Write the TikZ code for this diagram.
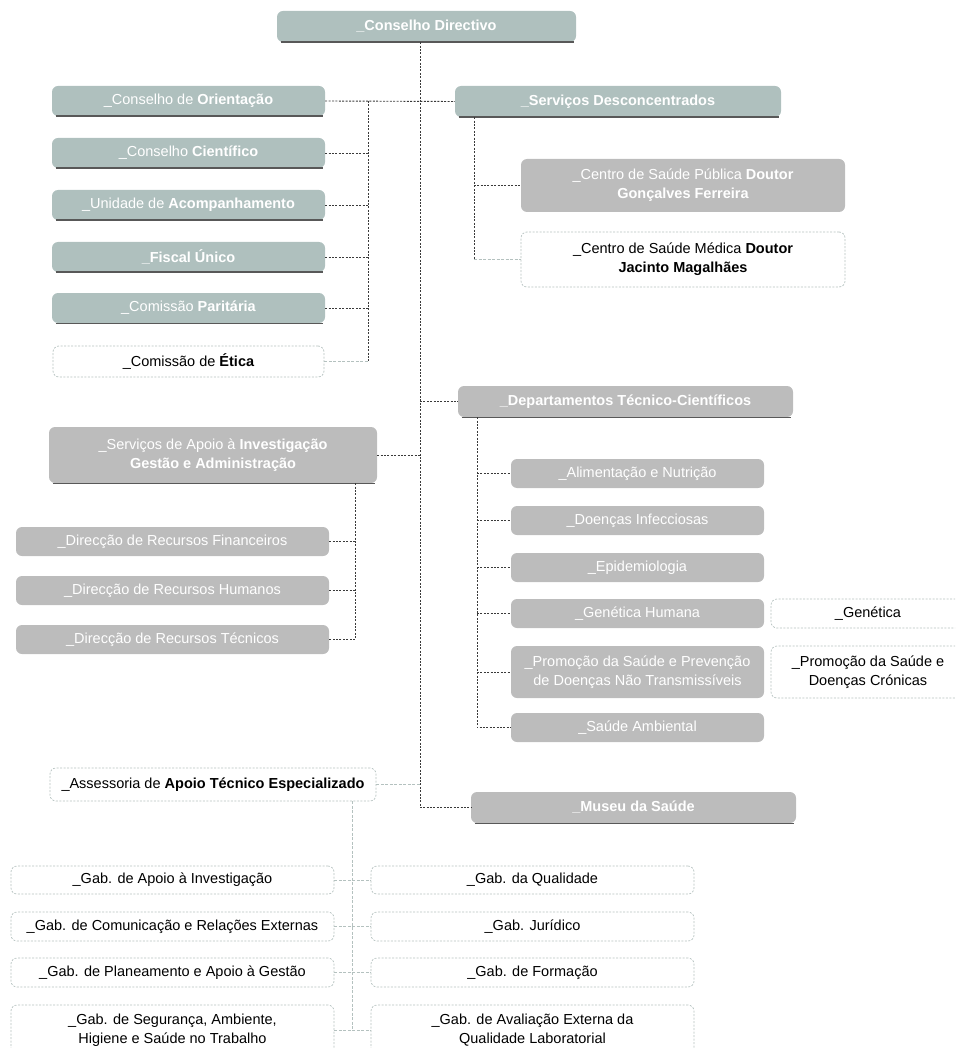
\documentclass[tikz,border=0pt]{standalone}
\usepackage{fontspec}
\setmainfont{Liberation Sans}
\definecolor{boxTeal}{HTML}{AFC0BE}
\definecolor{boxGrey}{HTML}{BCBCBC}
\definecolor{lineDark}{HTML}{3A3A3A}
\definecolor{lineFaint}{HTML}{B4C1BF}
\tikzstyle{tealBox}=[shape = rectangle, rounded corners = 6pt, fill = boxTeal, text = white, minimum height = 31pt, inner sep = 0pt, align = center]
\tikzstyle{greyBox}=[shape = rectangle, rounded corners = 6pt, fill = boxGrey, text = white, minimum height = 30pt, inner sep = 0pt, align = center]
\tikzstyle{openBox}=[shape = rectangle, rounded corners = 6pt, draw = lineFaint, dash pattern = on 2pt off 1.5pt, line width = 0.7pt, text = black, minimum height = 30pt, inner sep = 0pt, align = center]
\tikzstyle{darkLink}=[draw = lineDark, dash pattern = on 2pt off 1.4pt, line width = 0.9pt]
\tikzstyle{faintLink}=[draw = lineFaint, dash pattern = on 3pt off 1.5pt, line width = 0.8pt]
\tikzstyle{ledgeLine}=[draw = lineDark!85, line width = 1.4pt]

\begin{document}
\begin{tikzpicture}[x = 1pt, y = -1pt, font = \fontsize{14.5}{19}\selectfont]
\useasboundingbox (0,0) rectangle (955,1048);
\clip (0,0) rectangle (955,1048);
\coordinate (trunk) at (420,0);
\coordinate (leftBus) at (368,0);
\coordinate (descBus) at (474,0);
\coordinate (deptBus) at (477,0);
\coordinate (apoioBus) at (355,0);
\coordinate (gabBus) at (352,0);

\node[tealBox, minimum width = 299pt] (cd) at (426.5,26.5) {\textbf{\_Conselho Directivo}};

\node[tealBox, minimum width = 273pt, minimum height = 30pt] (co) at (188.5,101) {\_Conselho de \textbf{Orientação}};
\node[tealBox, minimum width = 273pt, minimum height = 30pt] (cc) at (188.5,153) {\_Conselho \textbf{Científico}};
\node[tealBox, minimum width = 273pt, minimum height = 30pt] (ua) at (188.5,205) {\_Unidade de \textbf{Acompanhamento}};
\node[tealBox, minimum width = 273pt, minimum height = 30pt] (fu) at (188.5,257) {\textbf{\_Fiscal Único}};
\node[tealBox, minimum width = 273pt, minimum height = 30pt] (cp) at (188.5,308) {\_Comissão \textbf{Paritária}};
\node[openBox, minimum width = 271pt, minimum height = 31pt] (ce) at (188.5,361.5) {\_Comissão de \textbf{Ética}};

\node[tealBox, minimum width = 326pt] (sd) at (618,101.5) {\textbf{\_Serviços Desconcentrados}};
\node[greyBox, minimum width = 324pt, minimum height = 53pt] (cg) at (683,185.5) {\_Centro de Saúde Pública \textbf{Doutor}\\\textbf{Gonçalves Ferreira}};
\node[openBox, minimum width = 324pt, minimum height = 55pt] (cj) at (683,259.5) {\_Centro de Saúde Médica \textbf{Doutor}\\\textbf{Jacinto Magalhães}};

\node[greyBox, minimum width = 328pt, minimum height = 56pt] (sa) at (213,455) {\_Serviços de Apoio à \textbf{Investigação}\\\textbf{Gestão e Administração}};
\node[greyBox, minimum width = 313pt, minimum height = 29pt] (rf) at (172.5,541.5) {\_Direcção de Recursos Financeiros};
\node[greyBox, minimum width = 313pt, minimum height = 29pt] (rh) at (172.5,590.5) {\_Direcção de Recursos Humanos};
\node[greyBox, minimum width = 313pt, minimum height = 29pt] (rt) at (172.5,639.5) {\_Direcção de Recursos Técnicos};

\node[greyBox, minimum width = 335pt, minimum height = 31pt] (dt) at (625.5,401.5) {\textbf{\_Departamentos Técnico-Científicos}};
\node[greyBox, minimum width = 253pt, minimum height = 29pt] (al) at (637.5,473.5) {\_Alimentação e Nutrição};
\node[greyBox, minimum width = 253pt, minimum height = 29pt] (di) at (637.5,520.5) {\_Doenças Infecciosas};
\node[greyBox, minimum width = 253pt, minimum height = 29pt] (ep) at (637.5,567.5) {\_Epidemiologia};
\node[greyBox, minimum width = 253pt, minimum height = 29pt] (gh) at (637.5,613.5) {\_Genética Humana};
\node[greyBox, minimum width = 253pt, minimum height = 52pt] (pv) at (637.5,672) {\_Promoção da Saúde e Prevenção\\de Doenças Não Transmissíveis};
\node[greyBox, minimum width = 253pt, minimum height = 29pt] (am) at (637.5,727.5) {\_Saúde Ambiental};
\node[openBox, minimum width = 194pt, minimum height = 29pt] (ge) at (868,613.5) {\_Genética};
\node[openBox, minimum width = 194pt, minimum height = 52pt] (pc) at (868,672) {\_Promoção da Saúde e\\Doenças Crónicas};

\node[openBox, minimum width = 326pt, minimum height = 33pt] (as) at (213,784.5) {\_Assessoria de \textbf{Apoio Técnico Especializado}};
\node[greyBox, minimum width = 325pt, minimum height = 31pt] (ms) at (633.5,807.5) {\textbf{\_Museu da Saúde}};

\node[openBox, minimum width = 323pt, minimum height = 28pt] (ga) at (172.5,880) {\_Gab. de Apoio à Investigação};
\node[openBox, minimum width = 323pt, minimum height = 29pt] (gc) at (172.5,926.5) {\_Gab. de Comunicação e Relações Externas};
\node[openBox, minimum width = 323pt, minimum height = 29pt] (gp) at (172.5,972.5) {\_Gab. de Planeamento e Apoio à Gestão};
\node[openBox, minimum width = 323pt, minimum height = 50pt] (gs) at (172.5,1030) {\_Gab. de Segurança, Ambiente,\\Higiene e Saúde no Trabalho};
\node[openBox, minimum width = 323pt, minimum height = 28pt] (gq) at (532.5,880) {\_Gab. da Qualidade};
\node[openBox, minimum width = 323pt, minimum height = 29pt] (gj) at (532.5,926.5) {\_Gab. Jurídico};
\node[openBox, minimum width = 323pt, minimum height = 29pt] (gf) at (532.5,972.5) {\_Gab. de Formação};
\node[openBox, minimum width = 323pt, minimum height = 50pt] (ae) at (532.5,1030) {\_Gab. de Avaliação Externa da\\Qualidade Laboratorial};

\foreach \n in {cd,co,cc,ua,fu,cp,sd,sa,dt,ms}
  \draw[ledgeLine] ([xshift=4pt]\n.south west) -- ([xshift=-2pt]\n.south east);

\draw[darkLink] (cd.south -| trunk) |- (ms.west);
\draw[darkLink] (co.east) -- (sd.west);
\draw[darkLink] (co.east -| leftBus) -- (ce.east -| leftBus);
\foreach \n in {cc,ua,fu,cp}
  \draw[darkLink] (\n.east) -- (\n.east -| leftBus);
\draw[faintLink] (ce.east) -- (ce.east -| leftBus);

\draw[darkLink] (sd.south -| descBus) |- (cg.west);
\draw[darkLink] (cg.west -| descBus) -- (cj.west -| descBus);
\draw[faintLink] (cj.west -| descBus) -- (cj.west);

\draw[darkLink] (sa.east) -- (sa.east -| trunk);
\draw[darkLink] (sa.south -| apoioBus) |- (rt.east);
\foreach \n in {rf,rh}
  \draw[darkLink] (\n.east) -- (\n.east -| apoioBus);

\draw[darkLink] (dt.west -| trunk) -- (dt.west);
\draw[darkLink] (dt.south -| deptBus) |- (am.west);
\foreach \n in {al,di,ep,gh,pv}
  \draw[darkLink] (\n.west -| deptBus) -- (\n.west);

\draw[faintLink] (as.east) -- (as.east -| trunk);
\draw[faintLink] (as.south -| gabBus) -- (gs.east -| gabBus);
\draw[faintLink] (ga.east) -- (gq.west);
\draw[faintLink] (gc.east) -- (gj.west);
\draw[faintLink] (gp.east) -- (gf.west);
\draw[faintLink] (gs.east) -- (ae.west);
\end{tikzpicture}
\end{document}
